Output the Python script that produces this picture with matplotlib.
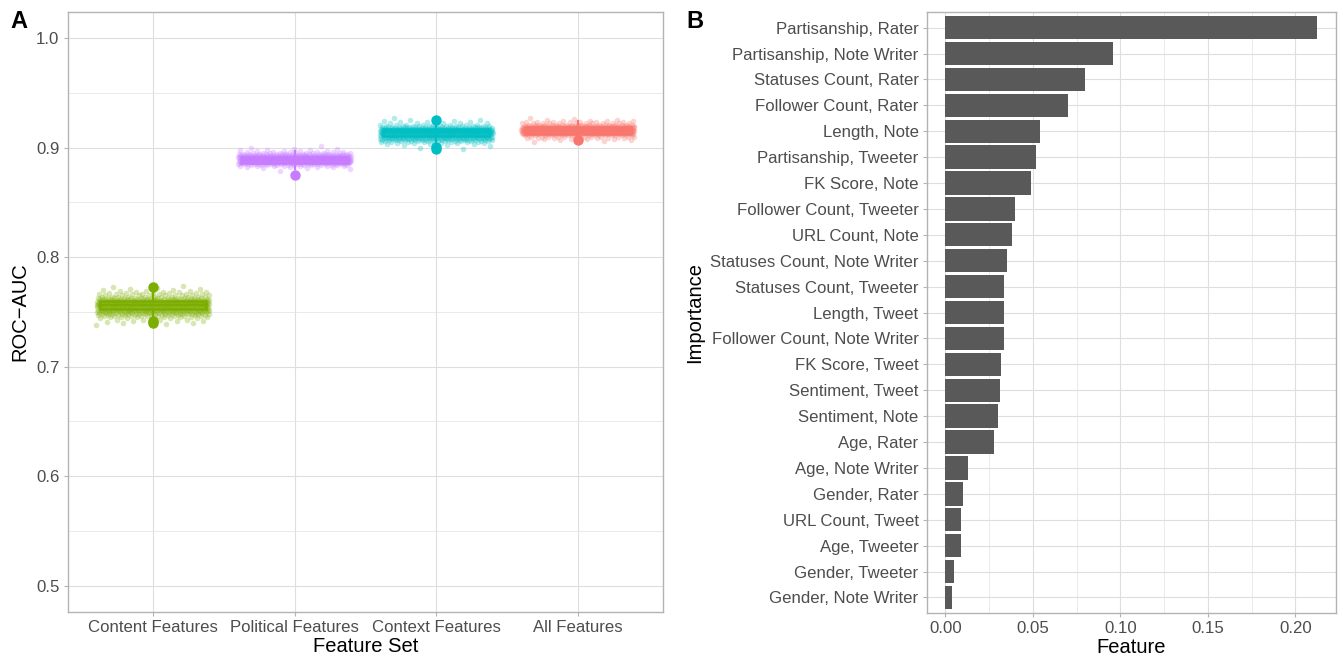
import numpy as np
import matplotlib.pyplot as plt
from matplotlib.ticker import MultipleLocator, FormatStrFormatter

plt.rcParams['font.family'] = ['Liberation Sans', 'DejaVu Sans']

# ---- panel A data ----
feature_sets = ["Content Features", "Political Features", "Context Features", "All Features"]
set_colors = ["#7CAE00", "#C77CFF", "#00BFC4", "#F8766D"]

# AUC runs, binned at 0.001 (first bin value + counts per bin)
content_start = 0.738
content_counts = [1, 1, 2, 2, 3, 4, 5, 7, 9, 11, 14, 17, 20, 23, 26, 28, 29, 30, 30,
                  29, 28, 26, 23, 20, 17, 14, 11, 9, 7, 5, 4, 3, 2, 2, 1, 1, 1]
political_start = 0.879
political_counts = [1, 1, 2, 4, 7, 12, 19, 28, 38, 46, 50, 48, 42, 33, 24, 16, 10, 6, 4,
                    3, 2, 1, 1]
context_start = 0.899
context_counts = [1, 1, 1, 2, 3, 5, 8, 12, 17, 23, 29, 34, 38, 40, 41, 40, 37, 33, 28,
                  22, 17, 12, 8, 5, 3, 2, 2, 1, 1]
all_start = 0.905
all_counts = [1, 1, 2, 4, 7, 12, 19, 28, 37, 44, 48, 50, 48, 44, 36, 27, 19, 12, 7, 4, 2,
              1, 1]

# boxplot summaries
box_med = [0.7565, 0.8887, 0.9138, 0.9160]
box_q1 = [0.7528, 0.8860, 0.9103, 0.9125]
box_q3 = [0.7600, 0.8914, 0.9172, 0.9190]
box_lo = [0.7455, 0.8800, 0.9030, 0.9080]
box_hi = [0.7705, 0.8970, 0.9240, 0.9240]
box_fliers = [[0.7728, 0.7400, 0.7415], [0.8752], [0.9255, 0.9005, 0.8990], [0.9070]]

# ---- panel B data ----
features = ["Partisanship, Rater", "Partisanship, Note Writer", "Statuses Count, Rater",
            "Follower Count, Rater", "Length, Note", "Partisanship, Tweeter", "FK Score, Note",
            "Follower Count, Tweeter", "URL Count, Note", "Statuses Count, Note Writer",
            "Statuses Count, Tweeter", "Length, Tweet", "Follower Count, Note Writer",
            "FK Score, Tweet", "Sentiment, Tweet", "Sentiment, Note", "Age, Rater",
            "Age, Note Writer", "Gender, Rater", "URL Count, Tweet", "Age, Tweeter",
            "Gender, Tweeter", "Gender, Note Writer"]
importance = [0.2126, 0.0960, 0.0800, 0.0703, 0.0543, 0.0520, 0.0491, 0.0400, 0.0383,
              0.0354, 0.0332, 0.0332, 0.0332, 0.0320, 0.0314, 0.0300, 0.0280, 0.0131,
              0.0103, 0.0091, 0.0091, 0.0051, 0.0040]

grid_major = "#dedede"
grid_minor = "#e6e6e6"
frame = "#b3b3b3"
tick_txt = "#4d4d4d"


def style(ax):
    for s in ax.spines.values():
        s.set_color(frame)
        s.set_linewidth(1.0)
    ax.tick_params(which="major", length=3, width=0.8, color=frame, labelcolor=tick_txt,
                   labelsize=12.1, pad=3)
    ax.tick_params(which="minor", length=0)
    ax.set_axisbelow(True)


fig = plt.figure(figsize=(13.43, 6.64), dpi=100)

# ---------------- A ----------------
axA = fig.add_axes([0.0506, 0.0783, 0.443, 0.9036])
style(axA)
axA.grid(which="major", color=grid_major, lw=0.8)
axA.yaxis.set_minor_locator(MultipleLocator(0.05))
axA.grid(which="minor", axis="y", color=grid_minor, lw=0.6)

golden = 0.6180339887
starts = [content_start, political_start, context_start, all_start]
counts = [content_counts, political_counts, context_counts, all_counts]
for i, (st, cn, col) in enumerate(zip(starts, counts, set_colors)):
    vals = np.repeat(st + 0.001 * np.arange(len(cn)), cn)
    k = np.arange(len(vals))
    xj = (i + 1) + ((k * golden + 0.37 * i) % 1.0 - 0.5) * 0.8
    axA.scatter(xj, vals, s=16, color=col, alpha=0.3, lw=0, zorder=2)

stats = []
for i in range(4):
    stats.append(dict(med=box_med[i], q1=box_q1[i], q3=box_q3[i], whislo=box_lo[i],
                      whishi=box_hi[i], fliers=box_fliers[i]))
for i, col in enumerate(set_colors):
    axA.bxp([stats[i]], positions=[i + 1], widths=0.75, patch_artist=True,
            showcaps=False,
            boxprops=dict(facecolor=col + "55", edgecolor=col, lw=1.8),
            medianprops=dict(color=col, lw=1.6),
            whiskerprops=dict(color=col, lw=1.6),
            flierprops=dict(marker="o", markerfacecolor=col, markeredgecolor=col,
                            markersize=6.5, alpha=1.0),
            zorder=3)

axA.set_xlim(0.4, 4.6)
axA.set_ylim(0.476, 1.0237)
axA.set_xticks([1, 2, 3, 4])
axA.set_xticklabels(feature_sets)
axA.set_yticks([0.5, 0.6, 0.7, 0.8, 0.9, 1.0])
axA.yaxis.set_major_formatter(FormatStrFormatter("%.1f"))
axA.set_xlabel("Feature Set", fontsize=14.5, labelpad=1)
axA.set_ylabel("ROC\u2212AUC", fontsize=14.5, labelpad=5)

# ---------------- B ----------------
axB = fig.add_axes([0.6902, 0.0768, 0.3045, 0.905])
style(axB)
ypos = np.arange(len(features))[::-1]
axB.barh(ypos, importance, height=0.9, color="#595959", zorder=2)
axB.set_yticks(ypos)
axB.set_yticklabels(features)
axB.grid(which="major", color=grid_major, lw=0.8)
axB.xaxis.set_minor_locator(MultipleLocator(0.025))
axB.grid(which="minor", axis="x", color=grid_minor, lw=0.6)
axB.set_xticks([0.0, 0.05, 0.10, 0.15, 0.20])
axB.xaxis.set_major_formatter(FormatStrFormatter("%.2f"))
axB.set_xlim(-0.0106, 0.2232)
axB.set_ylim(-0.6, len(features) - 0.4)
axB.set_xlabel("Feature", fontsize=14.5, labelpad=1)
axB.set_ylabel("Importance", fontsize=14.5, labelpad=4)

fig.text(0.008, 0.985, "A", fontsize=17, fontweight="bold", va="top")
fig.text(0.511, 0.985, "B", fontsize=17, fontweight="bold", va="top")

fig.savefig("out.png", dpi=100)
